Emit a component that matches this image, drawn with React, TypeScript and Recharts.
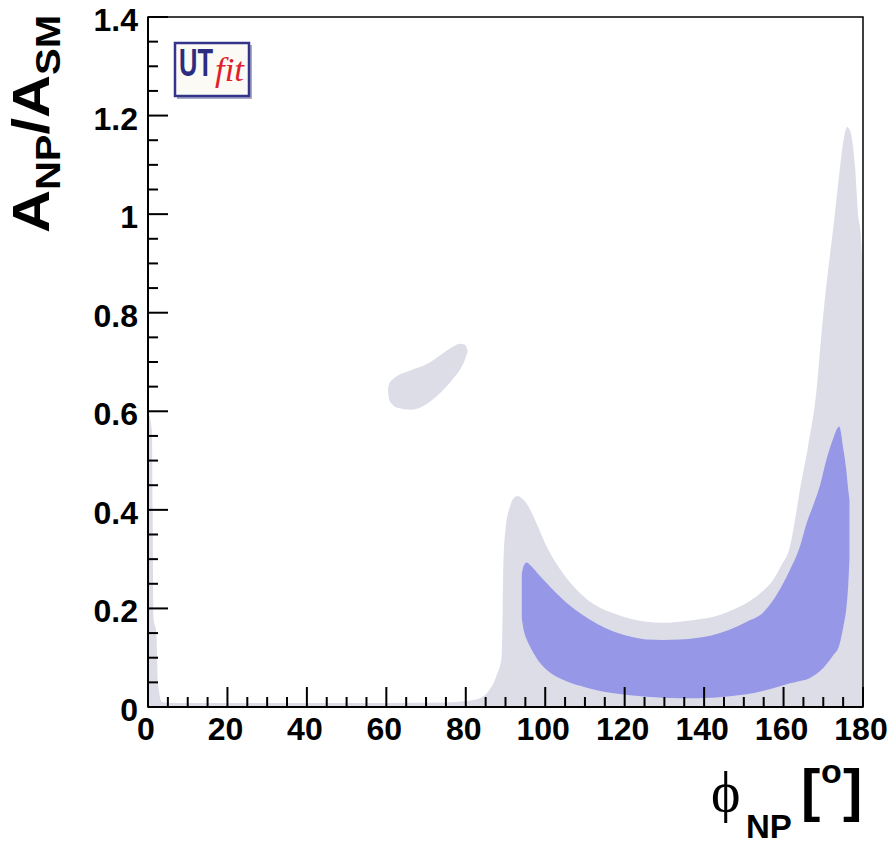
import React from "react"
import { ComposedChart, Area, XAxis, YAxis, ReferenceArea } from "recharts"

// 95% region (light grey), bottom edge on the axis
const outerX = [0, 1.0, 1.4, 2.1, 2.5, 3.5, 6, 20, 40, 60, 75, 80, 83, 85.3, 87.8, 89.0, 89.3, 89.5, 90.0, 91.1, 92, 93, 94, 95.3, 97.8, 100.4, 104.6, 108.8, 113, 117.2, 121.4, 125.5, 129.7, 133.9, 138, 142.3, 146.5, 150.7, 154, 157.4, 159.5, 161.6, 163, 164.1, 166.2, 168.3, 169.3, 170.3, 171.5, 172.7, 174.0, 175.0, 176, 176.9, 178, 178.8, 179.4, 179.8, 180]
const outerHigh = [0.6, 0.56, 0.18, 0.15, 0.05, 0.01, 0.008, 0.008, 0.008, 0.008, 0.009, 0.012, 0.016, 0.028, 0.065, 0.1, 0.2, 0.3, 0.36, 0.406, 0.423, 0.428, 0.424, 0.413, 0.373, 0.325, 0.27, 0.231, 0.205, 0.19, 0.179, 0.173, 0.171, 0.173, 0.177, 0.183, 0.195, 0.211, 0.23, 0.258, 0.288, 0.325, 0.385, 0.44, 0.53, 0.643, 0.735, 0.82, 0.905, 0.985, 1.08, 1.145, 1.177, 1.165, 1.096, 0.995, 0.962, 0.9, 0.85]

// isolated 95% island
const blobX = [60.4, 60.7, 61.5, 62.8, 66, 70.2, 74.3, 77, 78.5, 79.8, 80.5]
const blobLow = [0.643, 0.624, 0.614, 0.607, 0.603, 0.615, 0.643, 0.668, 0.684, 0.705, 0.722]
const blobHigh = [0.643, 0.656, 0.664, 0.672, 0.683, 0.696, 0.718, 0.732, 0.737, 0.735, 0.722]

// 68% region (blue)
const coreX = [94.1, 94.6, 95.3, 96.2, 98, 100.4, 104.6, 108.8, 113, 117.2, 121.4, 125.5, 129.7, 133.9, 138, 142.3, 146.5, 150.7, 155, 157.4, 159.5, 161.6, 164.1, 165.8, 167.5, 169.2, 170.9, 172.5, 174.0, 175.1, 175.8, 176.3, 176.6]
const coreLow = [0.18, 0.155, 0.138, 0.122, 0.097, 0.075, 0.055, 0.043, 0.034, 0.028, 0.024, 0.021, 0.019, 0.018, 0.018, 0.019, 0.022, 0.026, 0.033, 0.038, 0.043, 0.048, 0.053, 0.056, 0.063, 0.073, 0.088, 0.105, 0.125, 0.165, 0.2, 0.25, 0.3]
const coreHigh = [0.27, 0.287, 0.293, 0.288, 0.272, 0.251, 0.217, 0.19, 0.169, 0.153, 0.143, 0.137, 0.136, 0.137, 0.14, 0.146, 0.157, 0.173, 0.193, 0.217, 0.245, 0.278, 0.325, 0.373, 0.41, 0.45, 0.505, 0.545, 0.569, 0.521, 0.48, 0.44, 0.42]

const xMajor = [0, 20, 40, 60, 80, 100, 120, 140, 160, 180]
const yMajor = [0, 0.2, 0.4, 0.6, 0.8, 1, 1.2, 1.4]

const GREY = "#dddde8"
const BLUE = "#9797e8"
const FONT = "'Liberation Sans', Arial, Helvetica, sans-serif"
const SERIF = "'Liberation Serif', 'DejaVu Serif', 'Times New Roman', serif"

const subdivide = (major: number[], n: number) => {
  const out: number[] = []
  for (let i = 0; i < major.length - 1; i++) {
    const step = (major[i + 1] - major[i]) / n
    for (let k = 0; k < n; k++) out.push(+(major[i] + k * step).toFixed(4))
  }
  out.push(major[major.length - 1])
  return out
}
const xTicks = subdivide(xMajor, 4)
const yTicks = subdivide(yMajor, 4)
const isMajor = (v: number, major: number[]) => major.some((m) => Math.abs(m - v) < 1e-6)

const rows = new Map<number, any>()
const put = (x: number, key: string, v: [number, number]) => {
  const r = rows.get(x) ?? { x }
  r[key] = v
  rows.set(x, r)
}
outerX.forEach((x, i) => put(x, "outer", [0, outerHigh[i]]))
blobX.forEach((x, i) => put(x, "blob", [blobLow[i], blobHigh[i]]))
coreX.forEach((x, i) => put(x, "core", [coreLow[i], coreHigh[i]]))
const table = [...rows.values()].sort((a, b) => a.x - b.x)

const XTick = ({ x, y, payload }: any) => {
  const major = isMajor(payload.value, xMajor)
  return (
    <g>
      <line x1={x} x2={x} y1={y} y2={y - (major ? 20 : 10)} stroke="#000" strokeWidth={2} />
      {major && (
        <text x={x - 2} y={y + 33} textAnchor="middle" fontFamily={FONT} fontWeight="bold" fontSize={32} fill="#000">
          {payload.value}
        </text>
      )}
    </g>
  )
}

const YTick = ({ x, y, payload }: any) => {
  const major = isMajor(payload.value, yMajor)
  return (
    <g>
      <line x1={x} x2={x + (major ? 20 : 10)} y1={y} y2={y} stroke="#000" strokeWidth={2} />
      {major && (
        <text x={x - 10} y={y + 14} textAnchor="end" fontFamily={FONT} fontWeight="bold" fontSize={32} fill="#000">
          {payload.value}
        </text>
      )}
    </g>
  )
}

const XTitle = () => (
  <g>
    <text x={711} y={811} fontFamily={SERIF} fontSize={56} fill="#000">
      ϕ
    </text>
    <text x={746} y={838} fontFamily={FONT} fontWeight="bold" fontSize={33} fill="#000">
      NP
    </text>
    <text x={801} y={810} fontFamily={FONT} fontWeight="bold" fontSize={58} fill="#000">
      [
    </text>
    <text x={821} y={783} fontFamily={FONT} fontWeight="bold" fontSize={34} fill="#000">
      o
    </text>
    <text x={843} y={810} fontFamily={FONT} fontWeight="bold" fontSize={58} fill="#000">
      ]
    </text>
  </g>
)

const YTitle = () => (
  <text
    transform="rotate(-90)"
    x={-233}
    y={49}
    fontFamily={FONT}
    fontWeight="bold"
    fontSize={52}
    fill="#000"
    textLength={218}
    lengthAdjust="spacingAndGlyphs"
  >
    A
    <tspan fontSize={35} dy={11}>NP</tspan>
    <tspan dy={-11}>/A</tspan>
    <tspan fontSize={35} dy={11}>SM</tspan>
  </text>
)

const Logo = () => (
  <svg width={892} height={842} style={{ position: "absolute", left: 0, top: 0, pointerEvents: "none" }}>
    <rect x={177} y={45} width={75} height={54} fill="#a8a8c8" />
    <rect x={175} y={43} width={74} height={53} fill="#fbfaf4" stroke="#34348a" strokeWidth={2.5} />
    <text x={179} y={76} fontFamily={FONT} fontWeight="bold" fontSize={38} fill="#2c2c80" textLength={34} lengthAdjust="spacingAndGlyphs">
      UT
    </text>
    <text x={215} y={81} fontFamily={SERIF} fontStyle="italic" fontSize={34} fill="#e0202c" textLength={29} lengthAdjust="spacingAndGlyphs">
      fit
    </text>
  </svg>
)

export default function App() {
  return (
    <div style={{ position: "absolute", left: 0, top: 0, width: 892, height: 842, background: "#fff" }}>
      <ComposedChart width={892} height={842} data={table} margin={{ top: 17, right: 29, bottom: 0, left: 0 }}>
        <Area type="monotone" dataKey="outer" stroke="none" fill={GREY} fillOpacity={1} connectNulls dot={false} activeDot={false} isAnimationActive={false} />
        <Area type="monotone" dataKey="blob" stroke="none" fill={GREY} fillOpacity={1} connectNulls dot={false} activeDot={false} isAnimationActive={false} />
        <Area type="monotone" dataKey="core" stroke="none" fill={BLUE} fillOpacity={1} connectNulls dot={false} activeDot={false} isAnimationActive={false} />
        <ReferenceArea x1={0} x2={180} y1={0} y2={1.4} fill="none" stroke="#000" strokeWidth={1.5} />
        <XAxis
          dataKey="x"
          type="number"
          domain={[0, 180]}
          ticks={xTicks}
          interval={0}
          height={135}
          tickSize={0}
          tickMargin={0}
          tickLine={false}
          tick={<XTick />}
          axisLine={{ stroke: "#000", strokeWidth: 2 }}
          allowDataOverflow
          label={<XTitle />}
        />
        <YAxis
          type="number"
          domain={[0, 1.4]}
          ticks={yTicks}
          interval={0}
          width={148}
          tickSize={0}
          tickMargin={0}
          tickLine={false}
          tick={<YTick />}
          axisLine={{ stroke: "#000", strokeWidth: 2 }}
          allowDataOverflow
          label={<YTitle />}
        />
      </ComposedChart>
      <Logo />
    </div>
  )
}
